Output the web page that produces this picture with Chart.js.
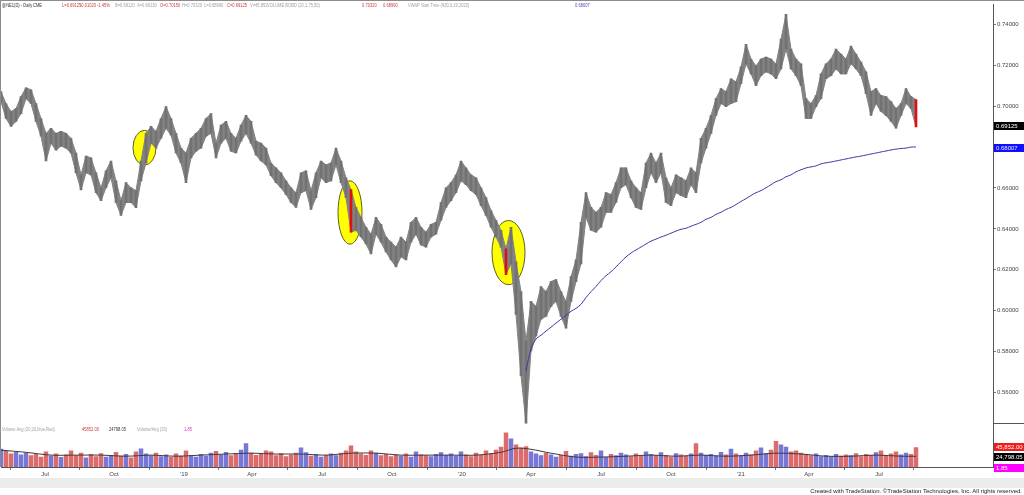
<!DOCTYPE html>
<html>
<head>
<meta charset="utf-8">
<script src="https://cdn.jsdelivr.net/npm/chart.js@4.4.0/dist/chart.umd.min.js"></script>
<style>
  html, body { margin: 0; padding: 0; background: #fff; }
  #wrap { position: relative; width: 1024px; height: 495px; overflow: hidden;
          font-family: "Liberation Sans", Arial, sans-serif; }
  #chart { position: absolute; left: 0; top: 0; }
  .t { position: absolute; font-size: 5.5px; line-height: 6px; white-space: nowrap;
       transform: scaleX(0.74); transform-origin: 0 0; }
  .dk { color: #333; } .rd { color: #d03a3a; } .gy { color: #a0a0a0; }
  .bl { color: #4a4ab8; } .mg { color: #d040d0; }
  #band { position: absolute; left: 0; top: 478px; width: 1024px; height: 10px; background: #ebebeb; }
  #foot { position: absolute; right: 2px; top: 488px; font-size: 6px; line-height: 7px; color: #222; white-space: nowrap; }
</style>
</head>
<body>
<div id="wrap">
  <canvas id="chart" width="1024" height="495"></canvas>

  <!-- header line -->
  <span class="t dk" style="left:2px;top:2px">@NE1(D) - Daily</span>
  <span class="t dk" style="left:33px;top:2px">CME</span>
  <span class="t rd" style="left:62px;top:2px">L=0.69125</span>
  <span class="t rd" style="left:80px;top:2px">-0.01020</span>
  <span class="t rd" style="left:97px;top:2px">-1.45%</span>
  <span class="t gy" style="left:115px;top:2px">B=0.69120</span>
  <span class="t gy" style="left:137px;top:2px">A=0.69130</span>
  <span class="t rd" style="left:160px;top:2px">O=0.70150</span>
  <span class="t gy" style="left:182px;top:2px">H=0.70320</span>
  <span class="t gy" style="left:204px;top:2px">L=0.68990</span>
  <span class="t rd" style="left:227px;top:2px">C=0.69125</span>
  <span class="t gy" style="left:250px;top:2px">V=45,852</span>
  <span class="t gy" style="left:267px;top:2px">VOLUME BOBD (20,1.75,50)</span>
  <span class="t rd" style="left:362px;top:2px">0.70320</span>
  <span class="t rd" style="left:383px;top:2px">0.68990</span>
  <span class="t gy" style="left:408px;top:2px">VWAP Start Time (930,3,19,2020)</span>
  <span class="t bl" style="left:575px;top:2px">0.68007</span>

  <!-- volume panel legend -->
  <span class="t gy" style="left:2px;top:426px">Volume Avg (20,20,blue,Red)</span>
  <span class="t rd" style="left:82px;top:426px">45852.00</span>
  <span class="t dk" style="left:109px;top:426px">24798.05</span>
  <span class="t gy" style="left:137px;top:426px">Volume/Avg (20)</span>
  <span class="t mg" style="left:184px;top:426px">1.85</span>

  <div id="band"></div>
  <div id="foot">Created with TradeStation. ©TradeStation Technologies, Inc. All rights reserved.</div>
</div>

<script>
// ============================================================
// NE1 daily — price, anchored VWAP and volume
// one slot = a few sessions
// ============================================================

// ---- PRICE (high / low per slot) ----
const highs = [
  0.7071, 0.7013, 0.6974, 0.6988, 0.7047, 0.7090, 0.7080, 0.7013, 0.6940, 0.6867,
  0.6892, 0.6867, 0.6877, 0.6867, 0.6843, 0.6771, 0.6664, 0.6756, 0.6747, 0.6674,
  0.6601, 0.6684, 0.6732, 0.6635, 0.6538, 0.6626, 0.6601, 0.6587, 0.6732, 0.6867,
  0.6901, 0.6877, 0.6940, 0.6998, 0.6940, 0.6867, 0.6795, 0.6771, 0.6843, 0.6867,
  0.6892, 0.6940, 0.6964, 0.6819, 0.6907, 0.6926, 0.6867, 0.6843, 0.6907, 0.6955,
  0.6926, 0.6829, 0.6819, 0.6795, 0.6722, 0.6698, 0.6674, 0.6635, 0.6601, 0.6577,
  0.6674, 0.6684, 0.6587, 0.6674, 0.6732, 0.6713, 0.6722, 0.6795, 0.6732, 0.6650,
  0.6592, 0.6505, 0.6456, 0.6408, 0.6374, 0.6456, 0.6422, 0.6360, 0.6335, 0.6311,
  0.6360, 0.6335, 0.6432, 0.6456, 0.6408, 0.6384, 0.6422, 0.6432, 0.6529, 0.6601,
  0.6626, 0.6664, 0.6732, 0.6698, 0.6664, 0.6650, 0.6601, 0.6553, 0.6490, 0.6442,
  0.6393, 0.6302, 0.6408, 0.6239, 0.6093, 0.5851, 0.6045, 0.6021, 0.6118, 0.6093,
  0.6142, 0.6152, 0.6093, 0.6045, 0.6166, 0.6248, 0.6432, 0.6577, 0.6505, 0.6481,
  0.6505, 0.6577, 0.6568, 0.6626, 0.6698, 0.6698, 0.6635, 0.6601, 0.6577, 0.6722,
  0.6771, 0.6722, 0.6771, 0.6650, 0.6601, 0.6664, 0.6650, 0.6635, 0.6698, 0.6674,
  0.6843, 0.6892, 0.6955, 0.7037, 0.7086, 0.7071, 0.7134, 0.7119, 0.7192, 0.7303,
  0.7231, 0.7197, 0.7231, 0.7240, 0.7231, 0.7207, 0.7328, 0.7449, 0.7279, 0.7231,
  0.7207, 0.7037, 0.7013, 0.7052, 0.7158, 0.7207, 0.7231, 0.7279, 0.7255, 0.7231,
  0.7294, 0.7255, 0.7216, 0.7168, 0.7071, 0.7086, 0.7052, 0.7047, 0.7023, 0.6989,
  0.7013, 0.7086, 0.7047, 0.7032,
];

const lows = [
  0.7022, 0.6940, 0.6901, 0.6925, 0.6964, 0.7037, 0.7013, 0.6925, 0.6853, 0.6732,
  0.6819, 0.6785, 0.6805, 0.6795, 0.6771, 0.6674, 0.6591, 0.6674, 0.6664, 0.6577,
  0.6538, 0.6601, 0.6650, 0.6529, 0.6466, 0.6529, 0.6529, 0.6504, 0.6635, 0.6722,
  0.6819, 0.6795, 0.6843, 0.6892, 0.6858, 0.6771, 0.6722, 0.6626, 0.6747, 0.6780,
  0.6795, 0.6853, 0.6867, 0.6747, 0.6819, 0.6843, 0.6780, 0.6771, 0.6829, 0.6867,
  0.6819, 0.6761, 0.6732, 0.6713, 0.6660, 0.6626, 0.6601, 0.6568, 0.6529, 0.6505,
  0.6577, 0.6587, 0.6495, 0.6553, 0.6650, 0.6626, 0.6635, 0.6713, 0.6626, 0.6553,
  0.6384, 0.6393, 0.6360, 0.6326, 0.6277, 0.6374, 0.6335, 0.6287, 0.6248, 0.6214,
  0.6263, 0.6248, 0.6335, 0.6374, 0.6321, 0.6311, 0.6360, 0.6374, 0.6442, 0.6505,
  0.6538, 0.6577, 0.6635, 0.6616, 0.6587, 0.6568, 0.6514, 0.6466, 0.6408, 0.6360,
  0.6311, 0.6176, 0.6229, 0.5982, 0.5682, 0.5450, 0.5803, 0.5876, 0.5958, 0.5972,
  0.6021, 0.6045, 0.5972, 0.5914, 0.6045, 0.6142, 0.6229, 0.6456, 0.6393, 0.6384,
  0.6408, 0.6481, 0.6481, 0.6529, 0.6601, 0.6616, 0.6553, 0.6505, 0.6495, 0.6601,
  0.6674, 0.6626, 0.6674, 0.6529, 0.6514, 0.6577, 0.6563, 0.6553, 0.6616, 0.6577,
  0.6722, 0.6795, 0.6867, 0.6955, 0.7013, 0.6998, 0.7013, 0.7022, 0.7110, 0.7207,
  0.7158, 0.7100, 0.7149, 0.7168, 0.7158, 0.7134, 0.7182, 0.7279, 0.7182, 0.7149,
  0.7100, 0.6940, 0.6940, 0.6998, 0.7037, 0.7134, 0.7149, 0.7182, 0.7158, 0.7158,
  0.7207, 0.7182, 0.7149, 0.7061, 0.6955, 0.7013, 0.6974, 0.6955, 0.6926, 0.6892,
  0.6955, 0.7013, 0.6989, 0.6899,
];

// slots drawn as red (signal) bars
const redBars = [70, 101, 183];

// ---- ANCHORED VWAP (starts 19 Mar 2020) ----
const vwapStart = 105;
const vwap = [
  0.5706, 0.5813, 0.5861, 0.5880, 0.5900, 0.5919, 0.5939, 0.5958, 0.5977, 0.5997,
  0.6011, 0.6031, 0.6064, 0.6093, 0.6118, 0.6147, 0.6171, 0.6190, 0.6214, 0.6239,
  0.6263, 0.6282, 0.6297, 0.6311, 0.6326, 0.6340, 0.6350, 0.6360, 0.6369, 0.6379,
  0.6389, 0.6398, 0.6403, 0.6413, 0.6422, 0.6432, 0.6447, 0.6456, 0.6471, 0.6481,
  0.6495, 0.6505, 0.6519, 0.6534, 0.6548, 0.6563, 0.6577, 0.6587, 0.6601, 0.6616,
  0.6631, 0.6640, 0.6655, 0.6664, 0.6679, 0.6689, 0.6698, 0.6703, 0.6708, 0.6718,
  0.6723, 0.6727, 0.6732, 0.6737, 0.6742, 0.6747, 0.6752, 0.6756, 0.6761, 0.6766,
  0.6771, 0.6776, 0.6781, 0.6786, 0.6790, 0.6793, 0.6795, 0.6800, 0.68007,
];

// ---- VOLUME ----
const volume = [
  42000, 38000, 31000, 35000, 29000, 33000, 27000, 30000, 24000, 36000,
  26000, 31000, 23000, 29000, 38000, 27000, 33000, 22000, 30000, 25000,
  32000, 24000, 28000, 35000, 26000, 30000, 22000, 36000, 43000, 31000,
  27000, 33000, 25000, 29000, 23000, 31000, 26000, 38000, 28000, 24000,
  30000, 26000, 33000, 37000, 29000, 35000, 27000, 31000, 40000, 55000,
  33000, 28000, 30000, 38000, 36000, 27000, 32000, 25000, 29000, 33000,
  45000, 34000, 26000, 30000, 24000, 28000, 31000, 27000, 33000, 38000,
  50000, 36000, 31000, 28000, 38000, 33000, 27000, 30000, 25000, 29000,
  26000, 31000, 24000, 36000, 29000, 27000, 25000, 30000, 34000, 28000,
  31000, 26000, 36000, 29000, 25000, 33000, 28000, 38000, 32000, 40000,
  47000, 80000, 66000, 52000, 45000, 48000, 36000, 31000, 27000, 33000,
  29000, 24000, 28000, 37000, 26000, 30000, 32000, 25000, 34000, 28000,
  38000, 23000, 30000, 27000, 33000, 29000, 25000, 31000, 26000, 36000,
  30000, 27000, 34000, 28000, 24000, 32000, 29000, 26000, 31000, 55000,
  33000, 28000, 30000, 26000, 35000, 29000, 42000, 31000, 27000, 33000,
  29000, 38000, 45000, 32000, 40000, 60000, 52000, 47000, 36000, 38000,
  33000, 30000, 27000, 31000, 25000, 28000, 24000, 30000, 26000, 29000,
  27000, 32000, 25000, 30000, 28000, 34000, 38000, 27000, 31000, 36000,
  29000, 33000, 30000, 45852,
];

const avgIdx = [0, 5, 10, 15, 20, 25, 30, 35, 40, 45, 50, 55, 60, 65, 70, 75, 80, 85, 90, 95,
  100, 103, 106, 110, 115, 120, 125, 130, 135, 140, 145, 150, 155, 160, 165, 170, 175, 180, 183];
const volAvg = [39000, 34000, 27500, 27500, 27500, 25000, 27500, 25000, 27500, 30000,
  32000, 30000, 30000, 27500, 32000, 32000, 27500, 27500, 27500, 27500,
  34000, 43500, 41000, 32000, 23000, 23000, 25000, 27500, 25000, 27500,
  25000, 27500, 32000, 30000, 25000, 25000, 27500, 25000, 24798];

// ---- LAST VALUES (axis tags) ----
const lastClose = 0.69125;
const lastVolume = 45852.00;
const lastVolAvg = 24798.05;
const volRatio = 1.85;

// ---- X AXIS (month marks, in slot units) ----
const tickIdx = [8.8, 22.6, 36.6, 50.2, 64.2, 78.2, 92.2, 106, 120, 134, 148, 161.6, 175.6];
const tickLabels = ['Jul', 'Oct', "'19", 'Apr', 'Jul', 'Oct', "'20", 'Apr', 'Jul', 'Oct', "'21", 'Apr', 'Jul'];

// ---- Y AXIS ----
const priceTicks = [0.56, 0.58, 0.60, 0.62, 0.64, 0.66, 0.68, 0.70, 0.72, 0.74];

// ---- highlight ellipses (slot, price, half-width in slots, half-height in price) ----
const ELLIPSES = [
  { i: 28.7, p: 0.6797, di: 2.3, dp: 0.0085 },
  { i: 69.8, p: 0.6480, di: 2.4, dp: 0.0155 },
  { i: 101.5, p: 0.6284, di: 3.3, dp: 0.0157 },
];

const FONT = '"Liberation Sans", Arial, sans-serif';
const GREY_BAND = '#838383';
const GREY_BAR = '#727272';
const RED_BAR = '#e01010';

// ============================================================
// plugins
// ============================================================
const ellipsePlugin = {
  id: 'ellipses',
  beforeDatasetsDraw(chart) {
    const { ctx, scales: { x, y } } = chart;
    ctx.save();
    ELLIPSES.forEach(e => {
      const cx = x.getPixelForValue(e.i);
      const cy = y.getPixelForValue(e.p);
      const rx = Math.abs(x.getPixelForValue(e.i + e.di) - cx);
      const ry = Math.abs(y.getPixelForValue(e.p + e.dp) - cy);
      ctx.beginPath();
      ctx.ellipse(cx, cy, rx, ry, 0, 0, Math.PI * 2);
      ctx.fillStyle = '#ffff00';
      ctx.fill();
      ctx.lineWidth = 1;
      ctx.strokeStyle = '#5c5c2a';
      ctx.stroke();
    });
    ctx.restore();
  },
};

function tag(ctx, left, yc, text, bg, fg) {
  ctx.fillStyle = bg;
  ctx.fillRect(left, Math.round(yc - 4), 30, 8);
  ctx.fillStyle = fg;
  ctx.font = '6px ' + FONT;
  ctx.textBaseline = 'middle';
  ctx.textAlign = 'left';
  ctx.fillText(text, left + 2, Math.round(yc) + 0.5);
}

const framePlugin = {
  id: 'frame',
  afterDraw(chart) {
    const { ctx, chartArea: a, scales: { y, yv } } = chart;
    ctx.save();
    ctx.strokeStyle = '#8c8c8c';
    ctx.lineWidth = 1;
    ctx.beginPath();
    ctx.moveTo(0, 0.5); ctx.lineTo(1024, 0.5);
    ctx.moveTo(0.5, 0); ctx.lineTo(0.5, a.bottom);
    ctx.stroke();
    // volume pane divider on the axis strip
    ctx.strokeStyle = '#555';
    ctx.beginPath();
    ctx.moveTo(a.right, 423.5); ctx.lineTo(1024, 423.5);
    ctx.stroke();

    const left = a.right + 1;
    tag(ctx, left, y.getPixelForValue(lastClose) + 1.5, lastClose.toFixed(5), '#000', '#fff');
    tag(ctx, left, y.getPixelForValue(vwap[vwap.length - 1]) + 1.5, vwap[vwap.length - 1].toFixed(5), '#1010ff', '#e8e8ff');
    const fmt = v => v.toLocaleString('en-US', { minimumFractionDigits: 2, maximumFractionDigits: 2 });
    const yVol = yv.getPixelForValue(lastVolume);
    tag(ctx, left, yVol, fmt(lastVolume), '#ee1c1c', '#fff');
    tag(ctx, left, yVol + 10, fmt(lastVolAvg), '#000', '#fff');
    tag(ctx, left, yVol + 21, volRatio.toFixed(2), '#ff00ff', '#fff');
    ctx.restore();
  },
};

// ============================================================
// build chart
// ============================================================
function initChart() {
  const ctx = document.getElementById('chart').getContext('2d');

  const highData = highs.map((h, i) => ({ x: i, y: h }));
  const lowData = lows.map((l, i) => ({ x: i, y: l }));
  const rangeData = lows.map((l, i) => ({ x: i, y: [l, highs[i]] }));
  const rangeColors = lows.map((l, i) => redBars.includes(i) ? RED_BAR : GREY_BAR);

  const mids = lows.map((lo, i) => (lo + highs[i]) / 2);
  const volData = volume.map((v, i) => ({ x: i, y: v }));
  const volColors = volume.map((v, i) =>
    (i > 0 && mids[i] < mids[i - 1]) ? 'rgba(216,92,92,0.9)' : 'rgba(104,104,210,0.9)');

  new Chart(ctx, {
    type: 'bar',
    data: {
      datasets: [
        {
          type: 'line',
          label: 'VWAP',
          yAxisID: 'y',
          data: vwap.map((v, k) => ({ x: vwapStart + k, y: v })),
          borderColor: '#3a3aa8',
          borderWidth: 1,
          pointRadius: 0,
          tension: 0.3,
          order: 0,
        },
        {
          type: 'bar',
          label: 'Range',
          yAxisID: 'y',
          data: rangeData,
          backgroundColor: rangeColors,
          borderWidth: 0,
          grouped: false,
          barThickness: 2,
          order: 1,
        },
        {
          type: 'line',
          label: 'High',
          yAxisID: 'y',
          data: highData,
          borderColor: GREY_BAND,
          backgroundColor: GREY_BAND,
          borderWidth: 1,
          pointRadius: 0,
          fill: '+1',
          order: 2,
        },
        {
          type: 'line',
          label: 'Low',
          yAxisID: 'y',
          data: lowData,
          borderColor: GREY_BAND,
          borderWidth: 1,
          pointRadius: 0,
          fill: false,
          order: 3,
        },
        {
          type: 'line',
          label: 'Volume Avg',
          yAxisID: 'yv',
          data: volAvg.map((v, k) => ({ x: avgIdx[k], y: v })),
          borderColor: '#3c3c3c',
          borderWidth: 1,
          pointRadius: 0,
          tension: 0.3,
          order: 4,
        },
        {
          type: 'bar',
          label: 'Volume',
          yAxisID: 'yv',
          data: volData,
          backgroundColor: volColors,
          borderWidth: 0,
          grouped: false,
          barPercentage: 1,
          categoryPercentage: 0.9,
          order: 5,
        },
      ],
    },
    options: {
      responsive: false,
      animation: false,
      devicePixelRatio: 1,
      layout: { padding: { left: 1, top: 0, right: 0, bottom: 0 } },
      plugins: {
        legend: { display: false },
        tooltip: { enabled: false },
      },
      scales: {
        x: {
          type: 'linear',
          min: 0,
          max: 198.4,
          offset: false,
          grid: { display: true, drawOnChartArea: false, tickLength: 3, color: '#777' },
          border: { display: true, color: '#555' },
          afterBuildTicks(scale) {
            scale.ticks = tickIdx.map(v => ({ value: v }));
          },
          afterFit(scale) { scale.height = 28; },
          ticks: {
            autoSkip: false,
            maxRotation: 0,
            padding: 1,
            font: { family: FONT, size: 6 },
            color: '#444',
            callback(value, index) { return tickLabels[index]; },
          },
        },
        y: {
          position: 'right',
          min: 0.52352,
          max: 0.74969,
          grid: { display: true, drawOnChartArea: false, tickLength: 3, color: '#777' },
          border: { display: true, color: '#555' },
          afterBuildTicks(scale) {
            scale.ticks = priceTicks.map(v => ({ value: v }));
          },
          afterFit(scale) { scale.width = 31; },
          ticks: {
            padding: 1,
            font: { family: FONT, size: 6 },
            color: '#444',
            callback(value) { return Number(value).toFixed(5); },
          },
        },
        yv: {
          position: 'right',
          display: false,
          min: 0,
          max: 1070640,
        },
      },
    },
    plugins: [ellipsePlugin, framePlugin],
  });
}

initChart();
</script>
</body>
</html>
